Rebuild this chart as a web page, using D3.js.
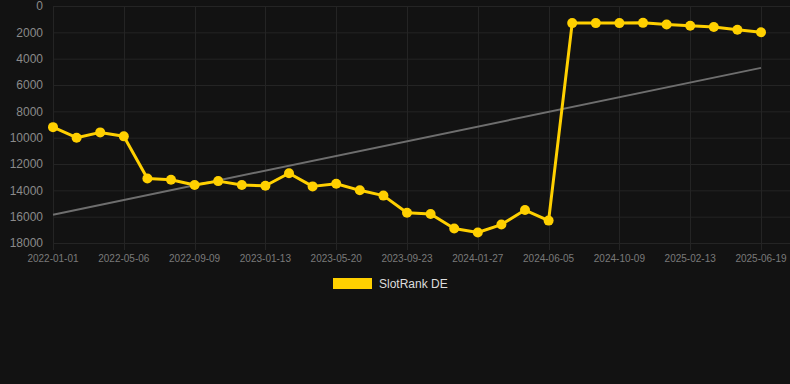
<!DOCTYPE html>
<html>
<head>
<meta charset="utf-8">
<script src="https://cdn.jsdelivr.net/npm/d3@7"></script>
<style>
  html, body { margin: 0; padding: 0; background: #121212; }
  svg { display: block; font-family: "Liberation Sans", Arial, sans-serif; }
</style>
</head>
<body>
<div id="chart"></div>
<script>
// SlotRank DE, one point per period (31 points), lower rank plotted lower
const rankValues = [
  9200, 10000, 9600, 9900, 13100, 13200, 13600, 13300, 13600, 13650,
  12700, 13700, 13500, 14000, 14400, 15700, 15800, 16900, 17200, 16600,
  15500, 16300, 1300, 1300, 1300, 1280, 1400, 1500, 1600, 1800, 2000
];
// labels shown on every third point
const tickLabels = [
  '2022-01-01', '2022-05-06', '2022-09-09', '2023-01-13', '2023-05-20',
  '2023-09-23', '2024-01-27', '2024-06-05', '2024-10-09', '2025-02-13', '2025-06-19'
];
const yTicks = [0, 2000, 4000, 6000, 8000, 10000, 12000, 14000, 16000, 18000];
// trend line start / end values
const trendValues = [15850, 4700];
const seriesName = 'SlotRank DE';

const width = 790;
const height = 384;
const plot = { left: 53, right: 761, top: 6, bottom: 243, gridRight: 790 };

const svg = d3.select('#chart')
  .append('svg')
  .attr('width', width)
  .attr('height', height);

svg.append('rect').attr('width', width).attr('height', height).attr('fill', '#121212');

const xScale = d3.scaleLinear()
  .domain([0, rankValues.length - 1])
  .range([plot.left, plot.right]);

const yScale = d3.scaleLinear()
  .domain([0, 18000])
  .range([plot.top, plot.bottom]);

// horizontal grid + y labels
const yAxis = svg.append('g');
yAxis.selectAll('line')
  .data(yTicks)
  .join('line')
  .attr('x1', plot.left)
  .attr('x2', plot.gridRight)
  .attr('y1', (d) => yScale(d) + 0.5)
  .attr('y2', (d) => yScale(d) + 0.5)
  .attr('stroke', '#242424')
  .attr('stroke-width', 1);

yAxis.selectAll('text')
  .data(yTicks)
  .join('text')
  .attr('x', 43)
  .attr('y', (d) => yScale(d))
  .attr('dy', '0.35em')
  .attr('text-anchor', 'end')
  .attr('fill', '#8a8a8a')
  .style('font-size', '12px')
  .text((d) => d);

// vertical grid + x labels
const xTickIdx = tickLabels.map((d, i) => i * 3);
const xAxis = svg.append('g');
xAxis.selectAll('line')
  .data(xTickIdx)
  .join('line')
  .attr('x1', (d) => Math.round(xScale(d)) + 0.5)
  .attr('x2', (d) => Math.round(xScale(d)) + 0.5)
  .attr('y1', plot.top)
  .attr('y2', plot.bottom + 7)
  .attr('stroke', '#242424')
  .attr('stroke-width', 1);

xAxis.selectAll('text')
  .data(tickLabels)
  .join('text')
  .attr('x', (d, i) => xScale(i * 3))
  .attr('y', 262)
  .attr('text-anchor', 'middle')
  .attr('fill', '#7a7a7a')
  .style('font-size', '10px')
  .text((d) => d);

// trend line
svg.append('line')
  .attr('x1', xScale(0))
  .attr('x2', xScale(rankValues.length - 1))
  .attr('y1', yScale(trendValues[0]))
  .attr('y2', yScale(trendValues[1]))
  .attr('stroke', '#6e6e6e')
  .attr('stroke-width', 2);

// series line
const line = d3.line()
  .x((d, i) => xScale(i))
  .y((d) => yScale(d));

svg.append('path')
  .datum(rankValues)
  .attr('d', line)
  .attr('fill', 'none')
  .attr('stroke', '#ffd000')
  .attr('stroke-width', 3)
  .attr('stroke-linejoin', 'round');

svg.append('g')
  .selectAll('circle')
  .data(rankValues)
  .join('circle')
  .attr('cx', (d, i) => xScale(i))
  .attr('cy', (d) => yScale(d))
  .attr('r', 5)
  .attr('fill', '#ffd000');

// legend
const legend = svg.append('g');
legend.append('rect')
  .attr('x', 333)
  .attr('y', 278)
  .attr('width', 39)
  .attr('height', 11)
  .attr('fill', '#ffd000');
legend.append('text')
  .attr('x', 379)
  .attr('y', 284)
  .attr('dy', '0.35em')
  .attr('fill', '#dddddd')
  .style('font-size', '12px')
  .text(seriesName);
</script>
</body>
</html>
